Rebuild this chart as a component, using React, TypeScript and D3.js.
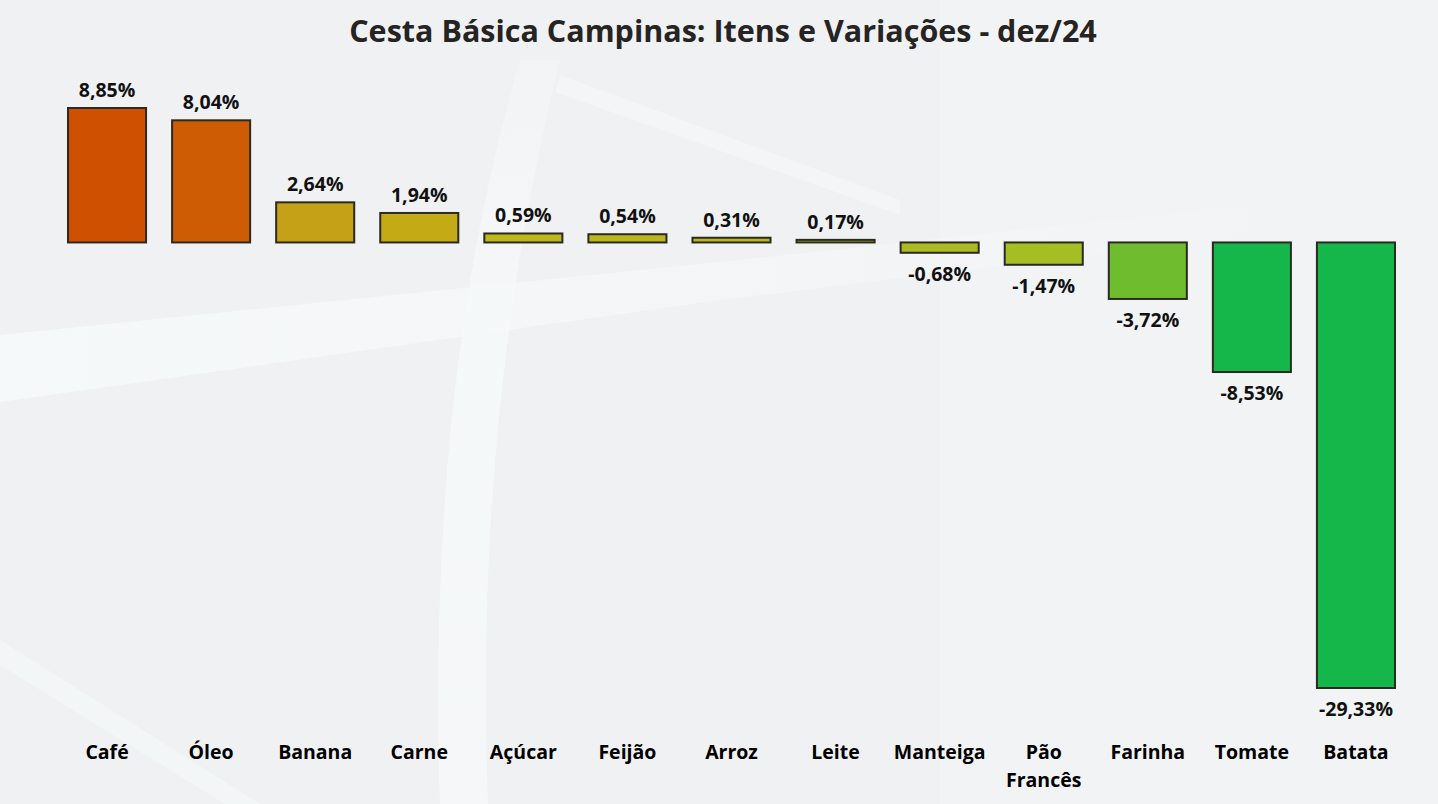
import React from "react";
import * as d3 from "d3";

const categories = ["Café", "Óleo", "Banana", "Carne", "Açúcar", "Feijão", "Arroz", "Leite", "Manteiga", "Pão Francês", "Farinha", "Tomate", "Batata"];
const values = [8.85, 8.04, 2.64, 1.94, 0.59, 0.54, 0.31, 0.17, -0.68, -1.47, -3.72, -8.53, -29.33];
const colors = ["#CF5000", "#CD5C05", "#C4A116", "#C4AB16", "#BEB81A", "#BBB81D", "#B6B61F", "#B1B620", "#ABBB22", "#A4BE23", "#70BC2F", "#15B74B", "#15B74B"];
const title = "Cesta Básica Campinas: Itens e Variações - dez/24";

const W = 1438;
const H = 804;
const FONT = "'Open Sans', 'Noto Sans', sans-serif";

export default function App() {
  const x = d3.scaleBand<string>().domain(categories).range([55, 1408]).paddingInner(0.25).paddingOuter(0.125);
  const y = d3.scaleLinear().domain([-29.33, 8.85]).range([688, 108]);
  const fmt = (v: number) => v.toFixed(2).replace(".", ",") + "%";

  return (
    <svg width={W} height={H} style={{ position: "absolute", left: 0, top: 0, display: "block" }}>
      <defs>
        <linearGradient id="fadeH" x1="0" y1="0" x2="1" y2="0">
          <stop offset="0" stopColor="#F6F9FA" stopOpacity={1} />
          <stop offset="0.55" stopColor="#F6F9FA" stopOpacity={0.6} />
          <stop offset="1" stopColor="#F6F9FA" stopOpacity={0} />
        </linearGradient>
        <linearGradient id="fadeV" x1="0" y1="0" x2="0" y2="1">
          <stop offset="0" stopColor="#F6F9FA" stopOpacity={0.3} />
          <stop offset="0.4" stopColor="#F6F9FA" stopOpacity={0.9} />
          <stop offset="1" stopColor="#F6F9FA" stopOpacity={0.8} />
        </linearGradient>
      </defs>
      <rect x={0} y={0} width={W} height={H} fill="#F0F1F3" />
      <rect x={940} y={0} width={498} height={H} fill="#F3F5F6" opacity={0.6} />
      {/* faint background shapes */}
      <path d="M0,335 L720,262 L1300,200 L1300,230 L720,300 L0,402 Z" fill="url(#fadeH)" />
      <path d="M520,60 L560,60 C500,300 478,560 488,804 L440,804 C432,560 450,300 520,60 Z" fill="url(#fadeV)" />
      <path d="M560,75 L900,200 L900,215 L555,92 Z" fill="#F4F6F7" opacity={0.7} />
      <path d="M0,640 L260,804 L225,804 L0,665 Z" fill="#F4F7F8" opacity={0.8} />

      <text x={723} y={42} textAnchor="middle" fontFamily={FONT} fontWeight={700} fontSize={30.5} fill="#252423">
        {title}
      </text>

      {categories.map((c, i) => {
        const v = values[i];
        const x0 = x(c)!;
        const bw = x.bandwidth();
        const top = Math.min(y(v), y(0));
        const h = Math.abs(y(v) - y(0));
        const cx = x0 + bw / 2;
        const labelY = v >= 0 ? top - 11 : top + h + 28;
        const words = c.split(" ");
        return (
          <g key={c}>
            <rect x={x0} y={top} width={bw} height={h} fill={colors[i]} stroke="#2B2A22" strokeWidth={2} />
            <text x={cx} y={labelY} textAnchor="middle" fontFamily={FONT} fontWeight={700} fontSize={19.5} fill="#111">
              {fmt(v)}
            </text>
            <text textAnchor="middle" fontFamily={FONT} fontWeight={700} fontSize={19.5} fill="#000">
              {words.map((w, k) => (
                <tspan key={k} x={cx} y={759 + k * 28}>
                  {w}
                </tspan>
              ))}
            </text>
          </g>
        );
      })}
    </svg>
  );
}
